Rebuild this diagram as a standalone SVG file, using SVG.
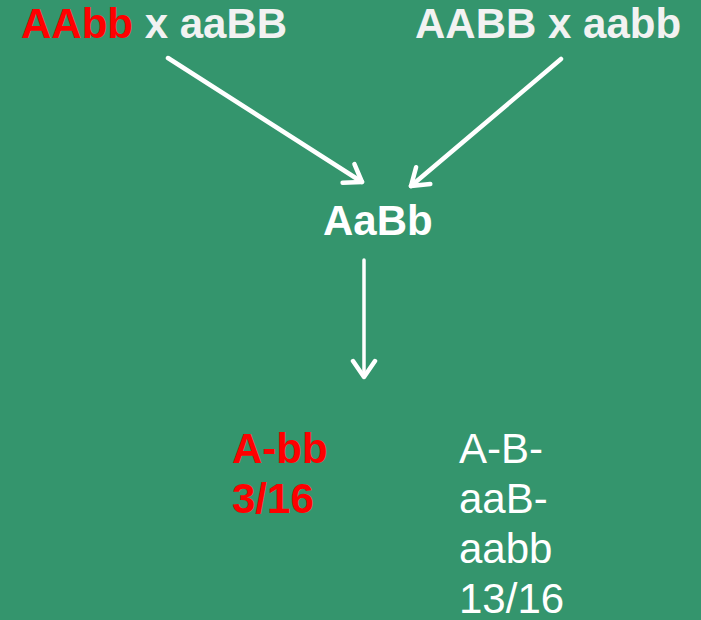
<svg xmlns="http://www.w3.org/2000/svg" width="701" height="620" viewBox="0 0 701 620">
<style>
text{font-family:"Liberation Sans",Arial,sans-serif;font-size:42px}
.b{font-weight:bold}
.w{fill:#F2F2F2}
.r{fill:#FF0000}
.wh{fill:#FFFFFF}
.c{stroke:#FFFFFF;fill:none;stroke-linecap:round;stroke-linejoin:round}
</style>
<defs>
<marker id="ah" markerUnits="userSpaceOnUse" viewBox="-20 -14 24 28" markerWidth="24" markerHeight="28" refX="0" refY="0" orient="auto">
<path d="M-16,-11 L0,0 L-16,11" fill="none" stroke="#FFFFFF" stroke-width="4.5" stroke-linecap="round" stroke-linejoin="round"/>
</marker>
</defs>
<rect width="701" height="620" fill="#34956D"/>
<g id="connectors">
<line class="c" x1="168" y1="58" x2="362" y2="182" stroke-width="4.5" marker-end="url(#ah)"/>
<line class="c" x1="561" y1="59" x2="411" y2="186" stroke-width="4.5" marker-end="url(#ah)"/>
<line class="c" x1="364" y1="260" x2="364" y2="377" stroke-width="3.5" marker-end="url(#ah)"/>
</g>
<g id="cross1">
<text x="21" y="38" class="b"><tspan class="r">AAbb</tspan><tspan class="w"> x aaBB</tspan></text>
</g>
<g id="cross2">
<text x="415" y="38" class="b w">AABB x aabb</text>
</g>
<g id="f1">
<text x="323" y="235" class="b wh">AaBb</text>
</g>
<g id="f2-red">
<text x="232" y="463" class="b r">A-bb</text>
<text x="232" y="513" class="b r">3/16</text>
</g>
<g id="f2-white">
<text x="459" y="463" class="wh">A-B-</text>
<text x="459" y="513" class="wh">aaB-</text>
<text x="459" y="563" class="wh">aabb</text>
<text x="459" y="613" class="wh">13/16</text>
</g>
</svg>
